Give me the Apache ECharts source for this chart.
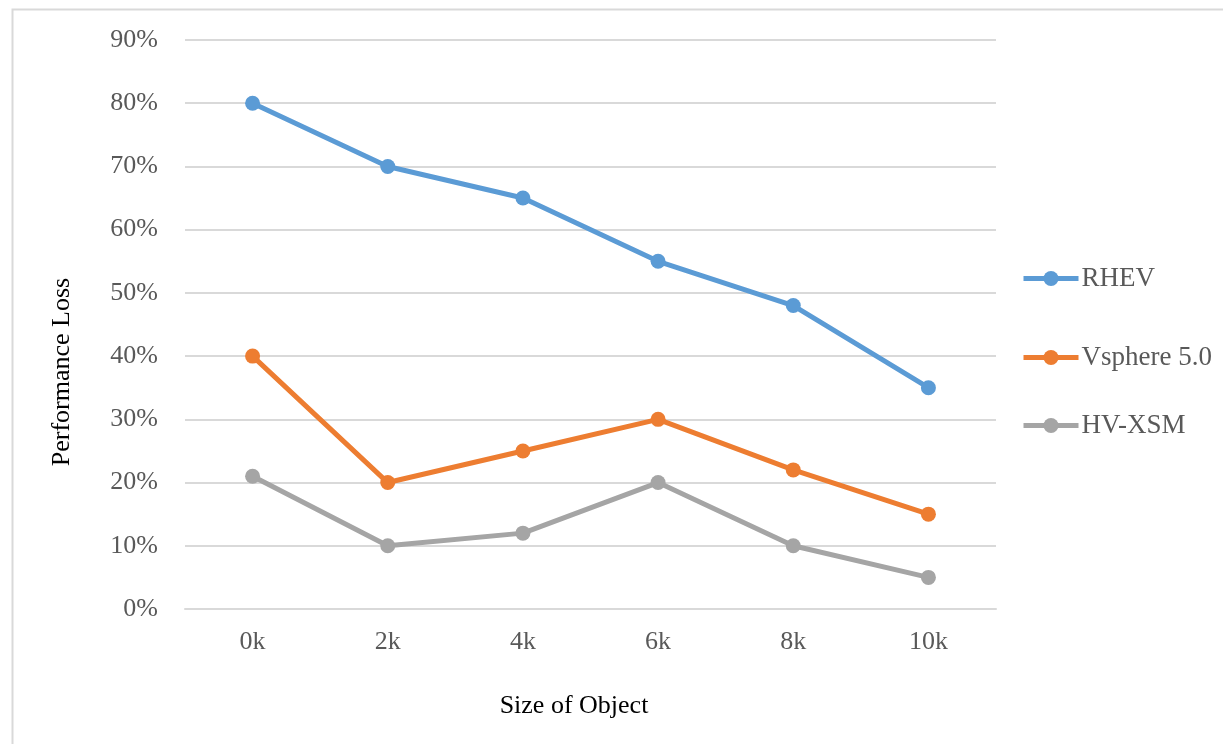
<!DOCTYPE html>
<html>
<head>
<meta charset="utf-8">
<script src="https://cdn.jsdelivr.net/npm/echarts@6/dist/echarts.min.js"></script>
<style>html,body{margin:0;padding:0;background:#fff}#c{width:1223px;height:744px}</style>
</head>
<body>
<div id="c"></div>
<script>
var categories = ['0k', '2k', '4k', '6k', '8k', '10k'];
var rhev = [80, 70, 65, 55, 48, 35];
var vsphere = [40, 20, 25, 30, 22, 15];
var hvxsm = [21, 10, 12, 20, 10, 5];
var seriesNames = ['RHEV', 'Vsphere 5.0', 'HV-XSM'];
var colors = ['#5b9bd5', '#ed7d31', '#a5a5a5'];
var yTicks = [0, 90, 10];

var FONT = "'Liberation Serif', 'Times New Roman', serif";
var chart = echarts.init(document.getElementById('c'));
function mk(name, data, color) {
  return {
    name: name, type: 'line', data: data,
    symbol: 'circle', symbolSize: 15,
    lineStyle: { width: 5, color: color },
    itemStyle: { color: color },
    emphasis: { disabled: true }
  };
}
function lg(name, top) {
  return {
    data: [name], left: 1016, top: top, orient: 'vertical', padding: 5,
    itemWidth: 55, itemHeight: 19, itemGap: 4,
    lineStyle: { width: 5 },
    textStyle: { fontFamily: FONT, fontSize: 27, color: '#595959', padding: [0, 0, 0, -2] }
  };
}
chart.setOption({
  animation: false,
  color: colors,
  grid: { left: 185, right: 227, top: 40, bottom: 135 },
  legend: [lg(seriesNames[0], 260), lg(seriesNames[1], 339), lg(seriesNames[2], 407)],
  xAxis: {
    type: 'category', data: categories, boundaryGap: true,
    axisLine: { show: true, lineStyle: { color: '#d9d9d9', width: 2 } },
    axisTick: { show: false },
    axisLabel: { fontFamily: FONT, fontSize: 26, color: '#595959', margin: 20 }
  },
  yAxis: {
    type: 'value', min: yTicks[0], max: yTicks[1], interval: yTicks[2],
    axisLine: { show: false }, axisTick: { show: false },
    splitLine: { lineStyle: { color: '#d9d9d9', width: 2 } },
    axisLabel: { fontFamily: FONT, fontSize: 26, color: '#595959', margin: 27, formatter: '{value}%' }
  },
  graphic: [
    { type: 'rect', left: 10, top: 7, shape: { width: 1300, height: 800 }, style: { fill: 'none', stroke: '#d9d9d9', lineWidth: 2 }, silent: true },
    { type: 'text', x: 62, y: 372, rotation: Math.PI / 2, style: { text: 'Performance Loss', font: '26px ' + FONT, fill: '#000', align: 'center', verticalAlign: 'middle' } },
    { type: 'text', x: 574, y: 706, style: { text: 'Size of Object', font: '26px ' + FONT, fill: '#000', align: 'center', verticalAlign: 'middle' } }
  ],
  series: [mk(seriesNames[0], rhev, colors[0]), mk(seriesNames[1], vsphere, colors[1]), mk(seriesNames[2], hvxsm, colors[2])]
});
</script>
</body>
</html>
